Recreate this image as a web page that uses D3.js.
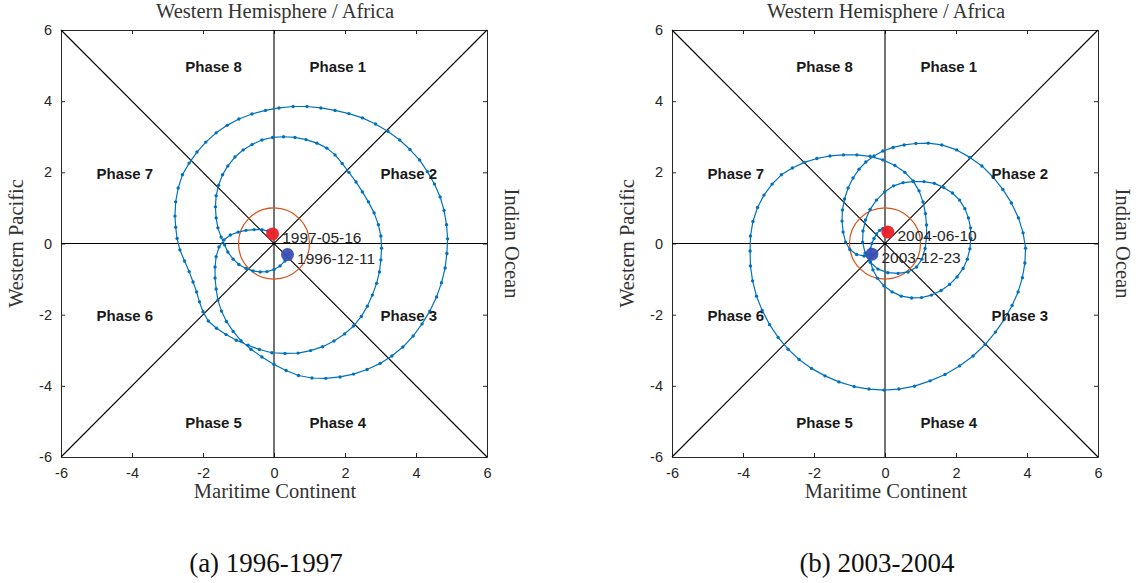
<!DOCTYPE html>
<html>
<head>
<meta charset="utf-8">
<script src="https://cdn.jsdelivr.net/npm/d3@7"></script>
<style>
  body { margin: 0; background: #fff; }
  svg { display: block; }
</style>
</head>
<body>
<svg id="chart" width="1140" height="583"></svg>
<script>
// Axis ticks shared by both phase diagrams
const ticks = [-6, -4, -2, 0, 2, 4, 6];

// Phase sector labels and their anchor points (RMM units)
const phaseNames = ["Phase 1", "Phase 2", "Phase 3", "Phase 4", "Phase 5", "Phase 6", "Phase 7", "Phase 8"];
const phaseX = [1, 3, 3, 1, -2.5, -5, -5, -2.5];
const phaseY = [5, 2, -2, -5, -5, -2, 2, 5];

// Daily MJO index trajectory, 1996-12-11 to 1997-05-16
const track1996 = [
  [0.38,-0.31],[0.31,-0.49],[0.17,-0.63],[0.00,-0.73],[-0.20,-0.79],[-0.39,-0.80],[-0.59,-0.77],[-0.79,-0.70],
  [-0.99,-0.59],[-1.15,-0.44],[-1.30,-0.24],[-1.39,-0.04],
  [-1.49,0.18],[-1.58,0.44],[-1.63,0.72],[-1.65,1.03],[-1.63,1.34],[-1.56,1.64],[-1.45,1.93],[-1.30,2.18],
  [-1.10,2.43],[-0.87,2.63],[-0.62,2.78],[-0.34,2.91],[-0.04,2.98],[0.27,3.00],[0.59,2.98],[0.90,2.92],
  [1.21,2.82],[1.49,2.68],[1.72,2.49],[1.92,2.25],[2.11,2.00],[2.31,1.73],[2.49,1.45],[2.66,1.17],
  [2.82,0.86],[2.94,0.53],[3.01,0.21],[3.03,-0.13],[3.01,-0.46],[2.97,-0.80],[2.89,-1.12],[2.77,-1.45],
  [2.63,-1.76],[2.46,-2.05],[2.24,-2.32],[1.99,-2.54],[1.69,-2.74],[1.37,-2.90],[1.03,-3.01],[0.68,-3.08],
  [0.31,-3.09],[-0.06,-3.07],[-0.41,-2.98],[-0.73,-2.86],
  [-1.06,-2.72],[-1.35,-2.56],[-1.62,-2.38],[-1.85,-2.18],[-2.00,-1.92],[-2.10,-1.64],[-2.18,-1.36],
  [-2.28,-1.08],[-2.39,-0.79],[-2.52,-0.49],[-2.65,-0.18],[-2.73,0.14],[-2.77,0.46],[-2.79,0.77],
  [-2.77,1.17],[-2.70,1.56],[-2.58,1.93],[-2.39,2.26],[-2.17,2.57],[-1.92,2.85],[-1.63,3.11],[-1.32,3.32],
  [-0.99,3.50],[-0.62,3.64],[-0.24,3.74],[0.14,3.81],[0.54,3.85],[0.93,3.85],[1.32,3.81],[1.72,3.74],
  [2.11,3.65],[2.49,3.53],[2.86,3.36],[3.21,3.15],[3.54,2.91],[3.83,2.64],[4.10,2.35],[4.32,2.02],
  [4.52,1.67],[4.68,1.31],[4.79,0.93],[4.86,0.53],[4.89,0.13],[4.87,-0.28],[4.82,-0.69],[4.72,-1.10],
  [4.58,-1.50],[4.39,-1.90],[4.17,-2.26],[3.92,-2.60],[3.63,-2.91],[3.32,-3.16],[2.99,-3.37],[2.62,-3.54],
  [2.24,-3.67],[1.86,-3.75],[1.46,-3.79],[1.07,-3.78],[0.69,-3.71],[0.34,-3.57],[0.00,-3.40],[-0.34,-3.19],
  [-0.65,-2.97],
  [-0.93,-2.73],[-1.15,-2.47],[-1.34,-2.19],[-1.48,-1.90],[-1.58,-1.59],[-1.63,-1.28],[-1.66,-0.97],
  [-1.66,-0.66],[-1.63,-0.37],[-1.55,-0.10],[-1.41,0.10],[-1.23,0.24],[-1.01,0.32],[-0.79,0.37],
  [-0.56,0.39],[-0.34,0.39],[-0.17,0.35],[-0.04,0.27]
];

// Daily MJO index trajectory, 2003-12-23 to 2004-06-10
const track2003 = [
  [-0.37,-0.30],[-0.59,-0.35],[-0.80,-0.31],[-0.99,-0.17],[-1.11,0.04],[-1.18,0.32],[-1.21,0.63],[-1.20,0.94],
  [-1.14,1.25],[-1.04,1.56],[-0.90,1.84],[-0.73,2.09],[-0.54,2.29],[-0.31,2.46],[-0.06,2.60],[0.23,2.70],
  [0.54,2.77],[0.87,2.81],
  [1.22,2.82],[1.60,2.77],[2.02,2.63],[2.39,2.42],[2.73,2.18],[3.04,1.87],[3.32,1.52],[3.56,1.14],
  [3.76,0.72],[3.89,0.30],[3.96,-0.13],[3.94,-0.55],[3.87,-0.96],[3.75,-1.36],[3.58,-1.74],[3.37,-2.12],
  [3.11,-2.49],[2.82,-2.84],[2.48,-3.16],[2.10,-3.44],[1.69,-3.68],[1.27,-3.86],[0.83,-4.01],[0.39,-4.09],
  [-0.03,-4.12],[-0.45,-4.09],[-0.87,-4.02],[-1.30,-3.89],[-1.69,-3.72],[-2.07,-3.51],[-2.42,-3.26],
  [-2.73,-2.97],[-3.01,-2.64],[-3.25,-2.28],[-3.46,-1.88],[-3.62,-1.48],[-3.73,-1.05],[-3.79,-0.63],
  [-3.80,-0.21],[-3.79,0.21],[-3.72,0.62],[-3.59,1.01],[-3.41,1.36],[-3.18,1.67],[-2.92,1.93],[-2.61,2.12],
  [-2.27,2.28],[-1.92,2.39],[-1.55,2.46],[-1.17,2.49],[-0.79,2.49],[-0.42,2.45],
  [-0.06,2.35],[0.28,2.19],[0.56,2.00],[0.79,1.76],[0.96,1.48],[1.07,1.17],[1.14,0.84],[1.17,0.52],
  [1.17,0.18],[1.13,-0.14],[1.04,-0.44],[0.89,-0.66],[0.65,-0.80],[0.37,-0.84],[0.08,-0.82],[-0.20,-0.72],
  [-0.42,-0.52],[-0.56,-0.27],[-0.63,0.04],[-0.62,0.35],[-0.55,0.66],[-0.42,0.96],[-0.24,1.22],[-0.01,1.45],
  [0.24,1.62],
  [0.51,1.71],[0.80,1.74],[1.10,1.74],[1.39,1.69],[1.66,1.57],[1.90,1.42],[2.10,1.22],[2.25,0.98],
  [2.35,0.72],[2.41,0.44],[2.42,0.14],[2.39,-0.15],[2.32,-0.44],[2.20,-0.70],[2.03,-0.94],[1.82,-1.15],
  [1.58,-1.32],[1.31,-1.45],[1.03,-1.52],[0.75,-1.53],[0.46,-1.48],[0.20,-1.36],[-0.03,-1.19],[-0.21,-0.98],
  [-0.34,-0.74],[-0.41,-0.52],
  [-0.42,-0.32],[-0.41,-0.15],[-0.37,0.00],[-0.31,0.14],[-0.24,0.27],[-0.15,0.37],[-0.06,0.42],[0.03,0.39],
  [0.08,0.32]
];

// Start / end dates for each episode
const dates1996 = ["1996-12-11", "1997-05-16"];
const dates2003 = ["2003-12-23", "2004-06-10"];
const captions = ["(a) 1996-1997", "(b) 2003-2004"];

const panels = [
  { track: track1996, dates: dates1996, caption: captions[0], left: 61 },
  { track: track2003, dates: dates2003, caption: captions[1], left: 672 }
];

const svg = d3.select("#chart");
const TOP = 30, W = 426, H = 427;
const serif = "'Liberation Serif', 'Times New Roman', serif";
const sans = "'Liberation Sans', Arial, Helvetica, sans-serif";
const lineBlue = "#0072bd";

panels.forEach(p => {
  const x = d3.scaleLinear().domain([-6, 6]).range([p.left, p.left + W]);
  const y = d3.scaleLinear().domain([-6, 6]).range([TOP + H, TOP]);
  const g = svg.append("g");

  // Bottom and left axes with inward ticks
  const bottom = g.append("g").attr("transform", `translate(0,${TOP + H})`)
    .call(d3.axisBottom(x).tickValues(ticks).tickSizeInner(-4).tickSizeOuter(0).tickPadding(11));
  const left = g.append("g").attr("transform", `translate(${p.left},0)`)
    .call(d3.axisLeft(y).tickValues(ticks).tickSizeInner(-4).tickSizeOuter(0).tickPadding(9));
  // Top and right axes: ticks only
  const top = g.append("g").attr("transform", `translate(0,${TOP})`)
    .call(d3.axisTop(x).tickValues(ticks).tickSizeInner(-4).tickSizeOuter(0).tickFormat(""));
  const right = g.append("g").attr("transform", `translate(${p.left + W},0)`)
    .call(d3.axisRight(y).tickValues(ticks).tickSizeInner(-4).tickSizeOuter(0).tickFormat(""));

  [bottom, left, top, right].forEach(a => {
    a.select(".domain").attr("stroke", "#262626").attr("stroke-width", 1);
    a.selectAll(".tick line").attr("stroke", "#262626").attr("stroke-width", 1);
    a.selectAll(".tick text").attr("fill", "#262626").attr("font-family", sans).attr("font-size", 14.5);
  });
  // Plain hyphen-minus on tick labels
  bottom.selectAll(".tick text").text(d => String(d));
  left.selectAll(".tick text").text(d => String(d));

  // Quadrant axes and sector diagonals
  const guides = [
    [[-6, 0], [6, 0]], [[0, -6], [0, 6]],
    [[-6, -6], [6, 6]], [[-6, 6], [6, -6]]
  ];
  g.selectAll("line.guide").data(guides).join("line")
    .attr("class", "guide")
    .attr("x1", d => x(d[0][0])).attr("y1", d => y(d[0][1]))
    .attr("x2", d => x(d[1][0])).attr("y2", d => y(d[1][1]))
    .attr("stroke", "#000").attr("stroke-width", 1.1);

  // Unit amplitude circle
  g.append("ellipse")
    .attr("cx", x(0)).attr("cy", y(0))
    .attr("rx", x(1) - x(0)).attr("ry", y(0) - y(1))
    .attr("fill", "none").attr("stroke", "#d95319").attr("stroke-width", 1.2);

  // Trajectory
  const line = d3.line().x(d => x(d[0])).y(d => y(d[1]));
  g.append("path").datum(p.track).attr("d", line)
    .attr("fill", "none").attr("stroke", lineBlue).attr("stroke-width", 1.2).attr("stroke-linejoin", "round");
  g.selectAll("circle.day").data(p.track).join("circle")
    .attr("class", "day")
    .attr("cx", d => x(d[0])).attr("cy", d => y(d[1])).attr("r", 1.7)
    .attr("fill", lineBlue);

  // Start (blue) and end (red) markers with date labels
  const first = p.track[0], last = p.track[p.track.length - 1];
  g.append("circle").attr("cx", x(first[0])).attr("cy", y(first[1])).attr("r", 6.5)
    .attr("fill", "#3a4fb4").attr("fill-opacity", 0.95);
  g.append("circle").attr("cx", x(last[0])).attr("cy", y(last[1])).attr("r", 6.5)
    .attr("fill", "#ec1f26").attr("fill-opacity", 0.95);
  [[first, p.dates[0]], [last, p.dates[1]]].forEach(([pt, label]) => {
    g.append("text")
      .attr("x", x(pt[0] + 0.27)).attr("y", y(pt[1] - 0.1))
      .attr("dy", "0.35em")
      .attr("font-family", sans).attr("font-size", 15.5).attr("fill", "#262626")
      .text(label);
  });

  // Phase sector labels
  g.selectAll("text.phase").data(phaseNames).join("text")
    .attr("class", "phase")
    .attr("x", (d, i) => x(phaseX[i])).attr("y", (d, i) => y(phaseY[i]))
    .attr("dy", "0.42em")
    .attr("font-family", sans).attr("font-size", 15).attr("font-weight", "bold").attr("fill", "#1a1a1a")
    .text(d => d);

  // Region names around the frame
  const cx = x(0), cy = y(0);
  g.append("text").attr("x", cx + 1).attr("y", 18).attr("text-anchor", "middle")
    .attr("font-family", serif).attr("font-size", 20.5).attr("fill", "#333")
    .text("Western Hemisphere / Africa");
  g.append("text").attr("x", cx + 1).attr("y", 498).attr("text-anchor", "middle")
    .attr("font-family", serif).attr("font-size", 20.5).attr("fill", "#333")
    .text("Maritime Continent");
  g.append("text").attr("transform", `translate(${p.left - 38},${cy}) rotate(-90)`)
    .attr("text-anchor", "middle")
    .attr("font-family", serif).attr("font-size", 20.5).attr("fill", "#333")
    .text("Western Pacific");
  g.append("text").attr("transform", `translate(${p.left + W + 18},${cy}) rotate(90)`)
    .attr("text-anchor", "middle")
    .attr("font-family", serif).attr("font-size", 20.5).attr("fill", "#333")
    .text("Indian Ocean");

  // Sub-figure caption
  g.append("text").attr("x", cx - 8).attr("y", 572).attr("text-anchor", "middle")
    .attr("font-family", serif).attr("font-size", 27).attr("fill", "#111")
    .text(p.caption);
});
</script>
</body>
</html>
